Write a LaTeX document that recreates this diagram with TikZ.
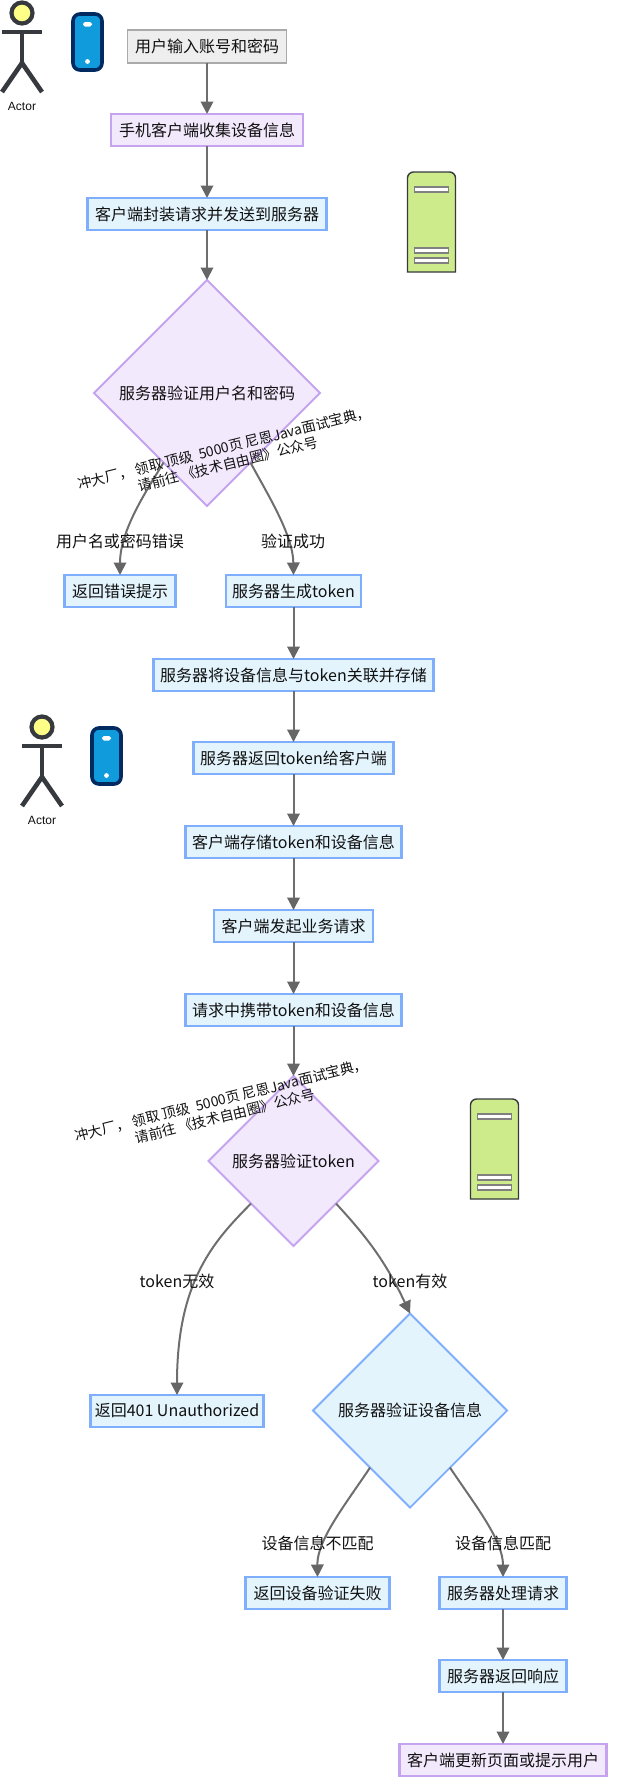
\documentclass[tikz,border=0pt]{standalone}
\usepackage{fontspec}
\setmainfont{Noto Sans CJK SC}
\newfontfamily\latinhelv{Liberation Sans}
\usetikzlibrary{arrows.meta,shapes.geometric}
\definecolor{edgegray}{HTML}{6E6E6E}
\definecolor{tipgray}{HTML}{666666}
\definecolor{greyfill}{HTML}{EEEEEE}
\definecolor{greyline}{HTML}{AAAAAA}
\definecolor{purplefill}{HTML}{F3E9FD}
\definecolor{purpleline}{HTML}{C5A3EE}
\definecolor{bluefill}{HTML}{E3F4FD}
\definecolor{blueline}{HTML}{7EAEFC}
\definecolor{inkdark}{HTML}{36393D}
\definecolor{headfill}{HTML}{FFFF88}
\definecolor{phonefill}{HTML}{0F9BDC}
\definecolor{phoneline}{HTML}{002A60}
\definecolor{serverfill}{HTML}{CDEB8B}
\definecolor{textdark}{HTML}{111111}
\tikzset{
  x=1pt,y=-1pt,
  every node/.style={text=textdark,font=\fontsize{16}{20}\selectfont,inner sep=0pt,outer sep=0pt},
  basebox/.style={rectangle,minimum height=32pt,line width=2.2pt},
  greybox/.style={basebox,fill=greyfill,draw=greyline,line width=1.3pt,minimum height=33pt},
  purplebox/.style={basebox,fill=purplefill,draw=purpleline},
  bluebox/.style={basebox,fill=bluefill,draw=blueline},
  dia/.style={diamond,aspect=1,line width=1.8pt},
  purpledia/.style={dia,fill=purplefill,draw=purpleline},
  bluedia/.style={dia,fill=bluefill,draw=blueline},
  flow/.style={draw=edgegray,line width=2pt,-{Triangle[length=12.5pt,width=12.5pt,color=tipgray]},shorten >=0pt},
  edgelabel/.style={},
  watermark/.style={rotate=14,align=center,font=\fontsize{14}{16.5}\selectfont},
  actorname/.style={font=\latinhelv\fontsize{12}{14}\selectfont},
  figure line/.style={draw=inkdark,line width=4.6pt},
  actorpic/.pic={
    \draw[figure line] (0,19) -- (0,50);
    \draw[figure line] (-20,19) -- (20,19);
    \draw[figure line] (-20,79) -- (0,50) -- (20,79);
    \draw[figure line,fill=headfill,line width=4.2pt] (0,0) circle (10.5);
  },
  phonepic/.pic={
    \draw[fill=phonefill,draw=phoneline,line width=3.6pt,rounded corners=7pt] (-14.5,-28) rectangle (14.5,28);
    \fill[white,rounded corners=1.8pt] (-4.5,-20) rectangle (4.5,-15.5);
    \fill[white] (0,19.5) circle (2.4);
  },
  serverpic/.pic={
    \draw[fill=serverfill,draw=inkdark,line width=1.4pt]
      (-24,50) [rounded corners=6pt] -- (-24,-50) -- (24,-50) [sharp corners] -- (24,50) -- cycle;
    \foreach \yy in {-35,26,36}
      \draw[fill=white,draw=gray,line width=1.3pt] (-17,\yy) rectangle (17,\yy+5);
  },
}
\begin{document}
\begin{tikzpicture}
\useasboundingbox (0,0) rectangle (616,1786);

% icons
\pic at (22,13) {actorpic};
\node[actorname] (actorA) at (22,106) {Actor};
\pic at (87.5,42) {phonepic};
\pic at (431.5,222) {serverpic};
\pic at (42,727) {actorpic};
\node[actorname] (actorB) at (42,820) {Actor};
\pic at (106.5,756) {phonepic};
\pic at (494.5,1149) {serverpic};

% nodes
\node[greybox,minimum width=159pt] (input) at (207,46.5) {用户输入账号和密码};
\node[purplebox,minimum width=192pt] (collect) at (207,130) {手机客户端收集设备信息};
\node[bluebox,minimum width=239pt] (wrap) at (207,214) {客户端封装请求并发送到服务器};
\node[purpledia,minimum width=226pt,minimum height=226pt] (checkpw) at (207,393) {服务器验证用户名和密码};
\node[bluebox,minimum width=111pt] (errtip) at (120,591) {返回错误提示};
\node[bluebox,minimum width=135pt] (gentoken) at (293.5,591) {服务器生成token};
\node[bluebox,minimum width=280pt] (bind) at (293.5,675) {服务器将设备信息与token关联并存储};
\node[bluebox,minimum width=200pt] (rettoken) at (293.5,758) {服务器返回token给客户端};
\node[bluebox,minimum width=216pt] (store) at (293.5,842) {客户端存储token和设备信息};
\node[bluebox,minimum width=159pt] (bizreq) at (293.5,926) {客户端发起业务请求};
\node[bluebox,minimum width=216pt] (carry) at (293.5,1010) {请求中携带token和设备信息};
\node[purpledia,minimum width=170pt,minimum height=170pt] (checktoken) at (293.5,1161) {服务器验证token};
\node[bluebox,minimum width=173pt] (unauth) at (177,1411) {返回401 Unauthorized};
\node[bluedia,minimum width=194pt,minimum height=194pt] (checkdev) at (410,1410.5) {服务器验证设备信息};
\node[bluebox,minimum width=144pt] (devfail) at (317.5,1593) {返回设备验证失败};
\node[bluebox,minimum width=127pt] (process) at (503,1593) {服务器处理请求};
\node[bluebox,minimum width=127pt] (respond) at (503,1676) {服务器返回响应};
\node[purplebox,minimum width=207pt] (update) at (503,1760) {客户端更新页面或提示用户};

% connectors
\draw[flow] (input) -- (collect);
\draw[flow] (collect) -- (wrap);
\draw[flow] (wrap) -- (checkpw.north);
\draw[flow] (checkpw.-122.5) .. controls (147,490) and (120,530) .. (errtip.north);
\draw[flow] (checkpw.-58.5) .. controls (268,495) and (293,535) .. (gentoken.north);
\draw[flow] (gentoken) -- (bind);
\draw[flow] (bind) -- (rettoken);
\draw[flow] (rettoken) -- (store);
\draw[flow] (store) -- (bizreq);
\draw[flow] (bizreq) -- (carry);
\draw[flow] (carry) -- (checktoken.north);
\draw[flow] (checktoken.south west) .. controls (215,1240) and (177,1280) .. (unauth.north);
\draw[flow] (checktoken.south east) .. controls (365,1235) and (385,1260) .. (checkdev.north);
\draw[flow] (checkdev.-125) .. controls (345,1505) and (317,1540) .. (devfail.north);
\draw[flow] (checkdev.-55) .. controls (475,1505) and (503,1540) .. (process.north);
\draw[flow] (process) -- (respond);
\draw[flow] (respond) -- (update);

% edge labels
\node[edgelabel] (lblerr) at (120,541.5) {用户名或密码错误};
\node[edgelabel] (lblok) at (293,541.5) {验证成功};
\node[edgelabel] (lblbad) at (177,1281) {token无效};
\node[edgelabel] (lblgood) at (410,1281) {token有效};
\node[edgelabel] (lblnomatch) at (317.5,1543) {设备信息不匹配};
\node[edgelabel] (lblmatch) at (503,1543) {设备信息匹配};

% watermarks
\node[watermark] (markA) at (226,456) {冲大厂， 领取 顶级 \ 5000页 尼恩Java面试宝典，\\请前往 《技术自由圈》公众号};
\node[watermark] (markB) at (223,1108) {冲大厂， 领取 顶级 \ 5000页 尼恩Java面试宝典，\\请前往 《技术自由圈》公众号};
\end{tikzpicture}
\end{document}
